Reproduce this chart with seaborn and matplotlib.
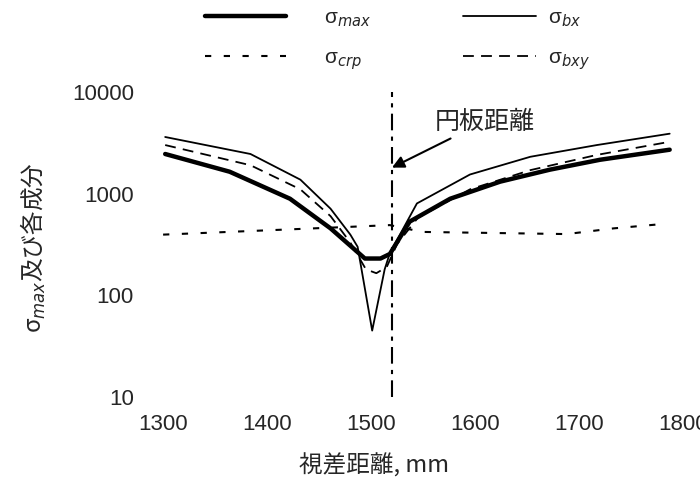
import numpy as np
import pandas as pd
import matplotlib
matplotlib.use('Agg')
import matplotlib.pyplot as plt
import seaborn as sns

# values (distance in mm, stress on log axis)
x_max = [1302, 1364, 1422, 1461, 1494, 1509, 1518, 1537, 1576, 1624, 1672, 1720, 1787]
y_max = [2450, 1640, 890, 455, 230, 230, 255, 530, 890, 1310, 1720, 2150, 2700]

x_bx = [1302, 1384, 1432, 1461, 1480, 1487, 1501, 1513, 1518, 1544, 1595, 1653, 1717, 1787]
y_bx = [3600, 2450, 1370, 710, 395, 300, 45, 180, 260, 800, 1540, 2300, 3000, 3880]

x_crp = [1300, 1422, 1477, 1518, 1549, 1688, 1733, 1778]
y_crp = [395, 445, 470, 490, 420, 400, 455, 500]

x_bxy = [1302, 1384, 1432, 1461, 1480, 1495, 1505, 1515, 1525, 1545, 1595, 1653, 1717, 1787]
y_bxy = [3000, 1900, 1100, 600, 330, 180, 165, 190, 320, 580, 1100, 1700, 2400, 3230]

plate_x = 1520
x_ticks = [1300, 1400, 1500, 1600, 1700, 1800]
y_ticks = [10, 100, 1000, 10000]

sns.set_style('white')
plt.rcParams['font.family'] = ['Liberation Sans', 'Noto Sans CJK JP', 'DejaVu Sans']
jp = ['Noto Sans CJK JP', 'DejaVu Sans']

fig = plt.figure(figsize=(7, 4.86), dpi=100)
ax = fig.add_axes([0.233, 0.183, 0.743, 0.628])

# the four curves
sns.lineplot(x=x_max, y=y_max, ax=ax, color='black', lw=3.2, label='σ$_{max}$')
sns.lineplot(x=x_crp, y=y_crp, ax=ax, color='black', lw=1.5, linestyle=(0, (3, 6)), label='σ$_{crp}$')
sns.lineplot(x=x_bx, y=y_bx, ax=ax, color='black', lw=1.3, label='σ$_{bx}$')
sns.lineplot(x=x_bxy, y=y_bxy, ax=ax, color='black', lw=1.3, linestyle=(0, (6, 4)), label='σ$_{bxy}$')

# plate position
ax.axvline(plate_x, color='black', lw=1.5, linestyle=(0, (8, 3, 2, 3)))
ax.annotate('円板距離', xy=(plate_x, 1800), xytext=(1561, 5100),
            fontsize=18, fontfamily=jp, va='center', ha='left',
            arrowprops=dict(arrowstyle='-|>', color='black', lw=1.5,
                            mutation_scale=18, shrinkA=1, shrinkB=0))

ax.set_yscale('log')
ax.set_xlim(1300, 1800)
ax.set_ylim(10, 10000)
ax.set_xticks(x_ticks)
ax.set_xticklabels([str(t) for t in x_ticks])
ax.set_yticks(y_ticks)
ax.set_yticklabels([str(t) for t in y_ticks])
ax.minorticks_off()
ax.tick_params(axis='both', length=0, labelsize=16)
ax.tick_params(axis='y', pad=21)
ax.tick_params(axis='x', pad=12)
for s in ax.spines.values():
    s.set_visible(False)

ax.set_xlabel('視差距離, mm', fontsize=17, fontfamily=jp)
ax.xaxis.set_label_coords(0.406, -0.185)
ax.set_ylabel('σ$_{max}$及び各成分', fontsize=17, fontfamily=jp)
ax.yaxis.set_label_coords(-0.222, 0.49)

# legend in two separate columns, as in the original
handles, labels = ax.get_legend_handles_labels()
ax.get_legend().remove()
leg1 = fig.legend(handles[:2], labels[:2], loc='upper left', bbox_to_anchor=(0.293, 0.983),
                  frameon=False, borderpad=0, borderaxespad=0, handlelength=3.9,
                  fontsize=15, labelspacing=0.95, handletextpad=1.8)
fig.legend(handles[2:], labels[2:], loc='upper left', bbox_to_anchor=(0.661, 0.983),
           frameon=False, borderpad=0, borderaxespad=0, handlelength=3.5,
           fontsize=15, labelspacing=0.95, handletextpad=0.6)

fig.savefig('out.png', dpi=100)
